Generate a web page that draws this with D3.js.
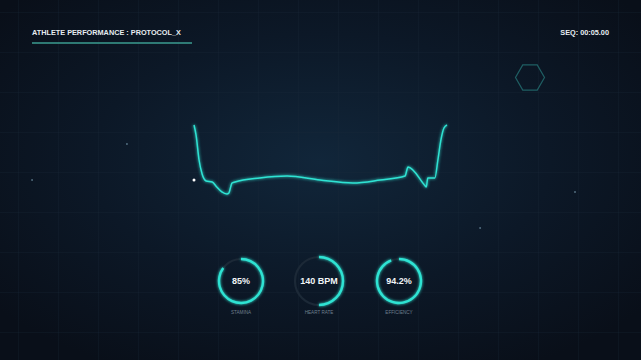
<!DOCTYPE html>
<html lang="en">
<head>
  <meta charset="UTF-8">
  <title>Athlete Performance</title>
  <style>
    html, body { margin: 0; padding: 0; background: #0a121d; overflow: hidden; }
    svg { display: block; font-family: "Liberation Sans", Arial, sans-serif; }
  </style>
</head>
<body>
  <svg id="chart" width="641" height="360"></svg>
  <script src="https://d3js.org/d3.v7.min.js"></script>
  <script>
    // sequence trace (seconds, output index)
    const seqTime = [0, 0.04, 0.10, 0.16, 0.24, 0.36, 0.45, 0.55, 0.65, 0.69, 0.73, 0.75, 0.81,
      1.30, 1.84, 2.49, 3.14, 3.68, 4.17, 4.23, 4.57, 4.59, 4.62, 4.76, 4.82, 4.88, 4.94, 5.0];
    const output = [100, 86, 50, 30, 20, 18.6, 11.4, 4.3, 1.4, 2.9, 12.9, 17.1, 18.6,
      24.3, 27.1, 21.4, 17.1, 21.4, 27.1, 40, 12.9, 11.4, 24.3, 24.3, 50, 78.6, 95.7, 100];

    // gauges
    const gaugeNames = ["STAMINA", "HEART RATE", "EFFICIENCY"];
    const gaugeValues = [85, 140, 94.2];
    const gaugeMax = [100, 280, 100];
    const gaugeText = ["85%", "140 BPM", "94.2%"];

    // header
    const title = "ATHLETE PERFORMANCE : PROTOCOL_X";
    const seqLabel = "SEQ: 00:05.00";

    const W = 641, H = 360;
    const svg = d3.select("#chart");
    const defs = svg.append("defs");

    // background glow
    const bg = defs.append("radialGradient").attr("id", "bg")
      .attr("cx", "50%").attr("cy", "45%").attr("r", "65%");
    bg.append("stop").attr("offset", "0%").attr("stop-color", "#11263a");
    bg.append("stop").attr("offset", "55%").attr("stop-color", "#0c1827");
    bg.append("stop").attr("offset", "100%").attr("stop-color", "#090f19");
    svg.append("rect").attr("width", W).attr("height", H).attr("fill", "url(#bg)");

    const glow = defs.append("filter").attr("id", "glow")
      .attr("x", "-20%").attr("y", "-20%").attr("width", "140%").attr("height", "140%");
    glow.append("feGaussianBlur").attr("stdDeviation", 1.8).attr("result", "b");
    const merge = glow.append("feMerge");
    merge.append("feMergeNode").attr("in", "b");
    merge.append("feMergeNode").attr("in", "SourceGraphic");

    // grid
    const grid = svg.append("g").attr("stroke", "#1a2a3a").attr("stroke-opacity", 0.25).attr("stroke-width", 1);
    d3.range(18, W, 40).forEach(x => grid.append("line").attr("x1", x + 0.5).attr("x2", x + 0.5).attr("y1", 0).attr("y2", H));
    d3.range(12, H, 40).forEach(y => grid.append("line").attr("y1", y + 0.5).attr("y2", y + 0.5).attr("x1", 0).attr("x2", W));

    // header
    svg.append("text").attr("x", 32).attr("y", 34.5)
      .attr("fill", "#e6ecf0").attr("font-size", 7.3).attr("font-weight", "bold")
      .text(title);
    svg.append("line").attr("x1", 32).attr("x2", 192).attr("y1", 43).attr("y2", 43)
      .attr("stroke", "#3b9c90").attr("stroke-width", 1.6);
    svg.append("text").attr("x", 609).attr("y", 34.5).attr("text-anchor", "end")
      .attr("fill", "#e6ecf0").attr("font-size", 7.3).attr("font-weight", "bold")
      .text(seqLabel);

    // hexagon
    const hex = d3.range(6).map(i => {
      const a = Math.PI / 3 * i;
      return [530 + 14.5 * Math.cos(a), 77.5 + 14.5 * Math.sin(a)];
    });
    svg.append("polygon").attr("points", hex.map(p => p.join(",")).join(" "))
      .attr("fill", "none").attr("stroke", "#1f5f63").attr("stroke-width", 1.2);

    // trace
    const x = d3.scaleLinear().domain([0, 5]).range([194, 447]);
    const y = d3.scaleLinear().domain([0, 100]).range([195, 125]);
    const line = d3.line().x(d => x(d[0])).y(d => y(d[1])).curve(d3.curveMonotoneX);
    const pts = seqTime.map((t, i) => [t, output[i]]);
    svg.append("path").datum(pts).attr("d", line)
      .attr("fill", "none").attr("stroke", "#2fe3d3").attr("stroke-width", 1.5)
      .attr("stroke-linejoin", "round").attr("filter", "url(#glow)");

    // marker at sequence start
    svg.append("circle").attr("cx", x(0)).attr("cy", y(21.4)).attr("r", 1.5).attr("fill", "#ffffff");

    // faint sparks (fractions of viewport)
    const sparkX = [0.05, 0.198, 0.897, 0.749];
    const sparkY = [0.5, 0.4, 0.533, 0.633];
    sparkX.forEach((fx, i) => svg.append("circle").attr("cx", fx * W).attr("cy", sparkY[i] * H)
      .attr("r", 1).attr("fill", "#7fa3b8").attr("opacity", 0.6));

    // gauges
    const gx = d3.scalePoint().domain(gaugeNames).range([241, 399]);
    const gr = [22, 24, 22];
    const arc = d3.arc();
    gaugeNames.forEach((name, i) => {
      const g = svg.append("g").attr("transform", `translate(${gx(name) + (i === 1 ? -1 : 0)},281)`);
      g.append("circle").attr("r", gr[i]).attr("fill", "none").attr("stroke", "#1c2937").attr("stroke-width", 2.2);
      const frac = gaugeValues[i] / gaugeMax[i];
      g.append("path").attr("d", arc({
        innerRadius: gr[i] - 1.2, outerRadius: gr[i] + 1.2,
        startAngle: 0, endAngle: frac * 2 * Math.PI
      })).attr("fill", "#2fe3d3").attr("filter", "url(#glow)");
      g.append("text").attr("y", 3.3).attr("text-anchor", "middle")
        .attr("fill", "#f2f5f7").attr("font-weight", "bold")
        .attr("font-size", 9)
        .text(gaugeText[i]);
      g.append("text").attr("y", 33).attr("text-anchor", "middle")
        .attr("fill", "#6f7f8e").attr("font-size", 4.6)
        .text(name);
    });
  </script>
</body>
</html>
